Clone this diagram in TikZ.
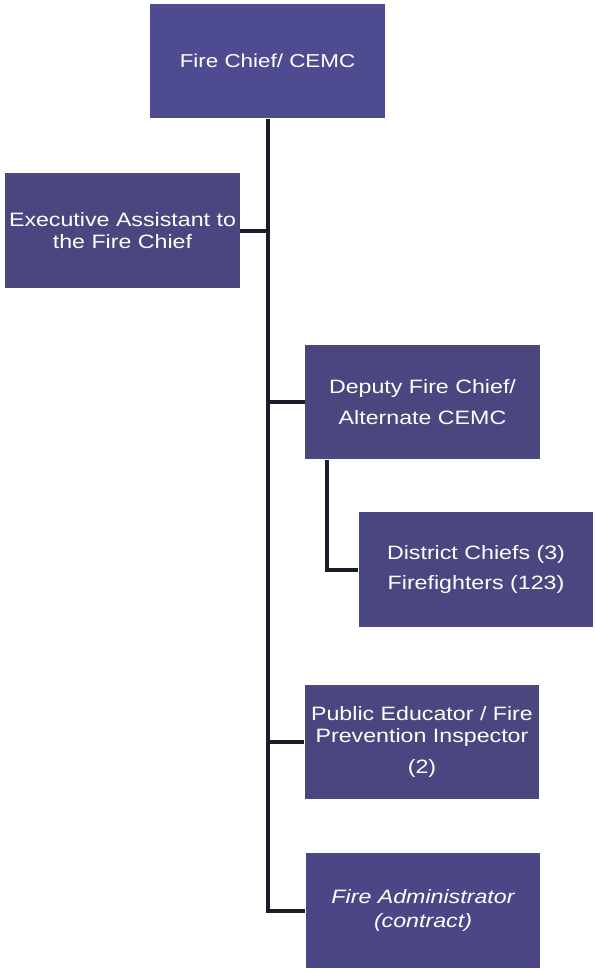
\documentclass[tikz,border=0pt]{standalone}
\usepackage{fontspec}
\setmainfont{Liberation Sans}[FakeStretch=1.2]
\usepackage{tikz}
\usetikzlibrary{positioning,calc}
\definecolor{boxblue}{HTML}{4A4680}
\definecolor{chiefblue}{HTML}{4F4B90}
\definecolor{adminblue}{HTML}{4B4787}
\definecolor{linedark}{HTML}{1C1B28}

\begin{document}
\begin{tikzpicture}[x=0.75pt,y=-0.75pt,
    box/.style={fill=boxblue,draw=none,text=white,align=center,
      minimum width=176pt,minimum height=86pt,inner sep=0pt,
      font=\fontsize{14.5}{16.5}\selectfont},
    link/.style={draw=linedark,line width=3pt}]
      \useasboundingbox (0,0) rectangle (595,971);
      \coordinate (c) at (267.5,61);
      \coordinate (e) at (122.5,230.5);
      \coordinate (d) at (422.5,402);
      \coordinate (k) at (476,569.5);
      \coordinate (p) at (422,742);
      \coordinate (a) at (423,910.5);

      \node[box,fill=chiefblue,font=\fontsize{14}{16}\selectfont] (cn) at (c) {Fire Chief/ CEMC};
      \node[box] (en) at (e) {Executive Assistant to\\the Fire Chief};
      \node[box] (dn) at (d) {Deputy Fire Chief/\\[6.5pt]Alternate CEMC};
      \node[box] (kn) at (k) {District Chiefs (3)\\[6.5pt]Firefighters (123)};
      \node[box] (pn) at (p) {Public Educator / Fire\\Prevention Inspector\\[7pt](2)};
      \node[box,fill=adminblue,font=\fontsize{14.5}{18}\selectfont\itshape] (an) at (a) {Fire Administrator\\(contract)};

      \draw[link] (cn.south) -- (cn.south |- an.west) -- (an.west);
      \draw[link] (en.east) -- (en.east -| cn.south);
      \draw[link] (dn.west) -- (dn.west -| cn.south);
      \draw[link] (pn.west) -- (pn.west -| cn.south);
      \draw[link] ([xshift=16.5pt]dn.south west) |- (kn.west);
    \end{tikzpicture}
\end{document}
